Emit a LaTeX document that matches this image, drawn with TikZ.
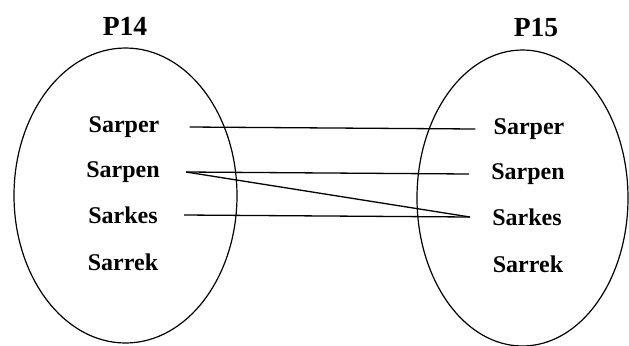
\documentclass[tikz,border=0pt]{standalone}
\usepackage{fontspec}
\setmainfont{Liberation Serif}
\usepackage{tikz}
\usetikzlibrary{positioning}
\tikzset{
  setline/.style={line width=0.6pt},
  maplink/.style={line width=0.65pt},
  setname/.style={font=\bfseries\fontsize{13.8}{15}\selectfont, inner sep=1pt},
  itemname/.style={font=\bfseries\fontsize{12}{14}\selectfont, inner sep=1pt}
}
\begin{document}
\begin{tikzpicture}[x=0.5pt, y=-0.5pt]
      \useasboundingbox (0,0) rectangle (629,345);
      \draw[setline] (125.5,195.5) ellipse (111.5 and 147.5);
      \draw[setline] (522.5,198) ellipse (105.5 and 148);
      \node[setname] (p14) at (125,26) {P14};
      \node[setname] (p15) at (536,28) {P15};
      \node[itemname] (la) at (124,127) {Sarper};
      \node[itemname] (lb) at (123,172) {Sarpen};
      \node[itemname] (lc) at (123,215) {Sarkes};
      \node[itemname] (ld) at (123,262) {Sarrek};
      \node[itemname] (ra) at (529,129) {Sarper};
      \node[itemname] (rb) at (528,174) {Sarpen};
      \node[itemname] (rc) at (527,217) {Sarkes};
      \node[itemname] (rd) at (528,264) {Sarrek};
      \draw[maplink] ([xshift=14pt]la.east) -- ([xshift=-8pt]ra.west);
      \draw[maplink] ([xshift=12pt]lb.east) -- ([xshift=-10pt]rb.west);
      \draw[maplink] ([xshift=12pt]lb.east) -- ([xshift=-10pt]rc.west);
      \draw[maplink] ([xshift=12pt]lc.east) -- ([xshift=-10pt]rc.west);
    \end{tikzpicture}
\end{document}
